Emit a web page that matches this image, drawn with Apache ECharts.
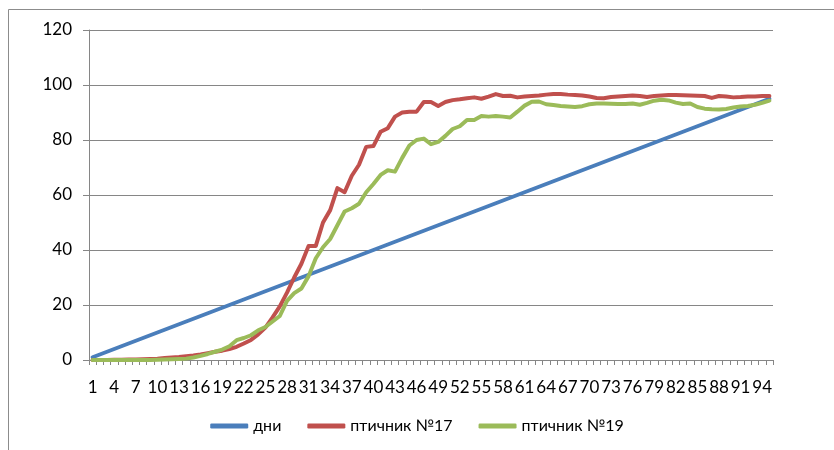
<!DOCTYPE html>
<html>
<head>
<meta charset="utf-8">
<script src="https://cdn.jsdelivr.net/npm/echarts@6/dist/echarts.min.js"></script>
<style>
  html, body { margin: 0; padding: 0; background: #fff; overflow: hidden; }
  #chart { width: 834px; height: 450px; }
</style>
</head>
<body>
<div id="chart"></div>
<script>
// days 1..95
var days = [];
for (var d = 1; d <= 95; d++) days.push(String(d));

var dni = [1, 2, 3, 4, 5, 6, 7, 8, 9, 10, 11, 12, 13, 14, 15, 16, 17, 18, 19, 20,
  21, 22, 23, 24, 25, 26, 27, 28, 29, 30, 31, 32, 33, 34, 35, 36, 37, 38, 39, 40,
  41, 42, 43, 44, 45, 46, 47, 48, 49, 50, 51, 52, 53, 54, 55, 56, 57, 58, 59, 60,
  61, 62, 63, 64, 65, 66, 67, 68, 69, 70, 71, 72, 73, 74, 75, 76, 77, 78, 79, 80,
  81, 82, 83, 84, 85, 86, 87, 88, 89, 90, 91, 92, 93, 94, 95]

var house17 = [0, 0, 0, 0.1, 0.1, 0.2, 0.2, 0.3, 0.4, 0.5,
  0.7, 0.9, 1.1, 1.4, 1.6, 2.0, 2.5, 3.0, 3.4, 4.0,
  4.8, 6.0, 7.3, 9.3, 11.8, 15.5, 19.5, 24.5, 30, 35,
  41.5, 41.5, 50, 54.5, 62.5, 61, 67, 71, 77.5, 77.8,
  83, 84.3, 88.5, 90, 90.3, 90.3, 93.8, 93.8, 92.4, 93.8,
  94.5, 94.8, 95.2, 95.5, 95, 95.8, 96.7, 96, 96.1, 95.5,
  95.8, 96, 96.2, 96.5, 96.7, 96.7, 96.5, 96.4, 96.2, 95.8,
  95.3, 95.2, 95.6, 95.8, 96, 96.2, 96, 95.6, 96, 96.2,
  96.4, 96.4, 96.3, 96.2, 96.1, 96, 95.3, 96, 95.8, 95.5,
  95.6, 95.8, 95.8, 96, 96]

var house19 = [0, 0, 0, 0, 0, 0, 0, 0, 0, 0.1,
  0.2, 0.3, 0.4, 0.5, 0.9, 1.5, 2.2, 3.0, 3.8, 5.0,
  7.2, 8.0, 9.0, 10.8, 12.0, 14.0, 16.0, 21.5, 24.3, 26,
  30.5, 37, 41, 44, 49, 54, 55.2, 56.8, 61, 64,
  67.3, 69, 68.5, 73.5, 78, 80, 80.5, 78.5, 79.3, 81.5,
  84, 85, 87.3, 87.3, 88.7, 88.5, 88.7, 88.5, 88.2, 90.3,
  92.5, 93.9, 94, 93, 92.7, 92.4, 92.2, 92, 92.3, 93,
  93.3, 93.3, 93.2, 93.1, 93.1, 93.3, 92.8, 93.5, 94.3, 94.6,
  94.4, 93.6, 93.1, 93.3, 92, 91.4, 91.2, 91.1, 91.3, 91.8,
  92.2, 92.4, 92.8, 93.5, 94.3]

var seriesNames = ['дни', 'птичник №17', 'птичник №19']
var seriesColors = ['#4a7ebb', '#c0504d', '#9bbb59']
var seriesData = [dni, house17, house19]

var fontFamily = 'Lato, "Open Sans", sans-serif'

var chart = echarts.init(document.getElementById('chart'))

var series = seriesNames.map(function (name, i) {
  return {
    name: name,
    type: 'line',
    data: seriesData[i],
    showSymbol: false,
    symbol: 'none',
    lineStyle: { width: 4, color: seriesColors[i], cap: 'round', join: 'round' },
    itemStyle: { color: seriesColors[i] },
    animation: false
  }
})

chart.setOption({
  animation: false,
  textStyle: { fontFamily: fontFamily },
  graphic: [{
    type: 'rect',
    shape: { x: 8.5, y: 9.5, width: 900, height: 500 },
    style: { fill: 'none', stroke: '#8c8c8c', lineWidth: 1 },
    silent: true
  }],
  grid: { left: 89, right: 61, top: 30, bottom: 90 },
  legend: {
    bottom: 11,
    left: 'center',
    itemWidth: 38,
    itemHeight: 5,
    itemGap: 26,
    icon: 'roundRect',
    textStyle: { fontSize: 16, color: '#000', fontFamily: fontFamily },
    data: seriesNames
  },
  xAxis: {
    type: 'category',
    data: days,
    boundaryGap: true,
    axisLine: { lineStyle: { color: '#868686', width: 1 } },
    axisTick: { show: true, interval: 0, length: 5, lineStyle: { color: '#868686' } },
    axisLabel: { interval: 2, margin: 19, fontSize: 17, color: '#000', fontFamily: fontFamily },
    splitLine: { show: false }
  },
  yAxis: {
    type: 'value',
    min: 0,
    max: 120,
    interval: 20,
    axisLine: { show: true, lineStyle: { color: '#868686', width: 1 } },
    axisTick: { show: true, length: 6, lineStyle: { color: '#868686' } },
    axisLabel: { margin: 17, fontSize: 17, color: '#000', fontFamily: fontFamily },
    splitLine: { lineStyle: { color: '#868686', width: 1 } }
  },
  series: series
})
</script>
</body>
</html>
